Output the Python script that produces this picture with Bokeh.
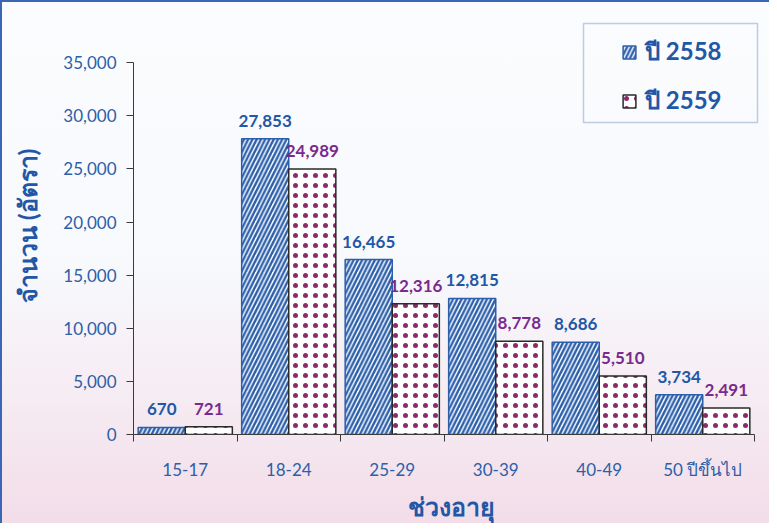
from bokeh.plotting import figure
from bokeh.models import (ColumnDataSource, FixedTicker, Range1d, Legend, LegendItem,
                          BoxAnnotation, NumeralTickFormatter)
from bokeh.transform import dodge
from bokeh.core.properties import value
from bokeh.embed import file_html
from bokeh.resources import INLINE

categories = ["15-17", "18-24", "25-29", "30-39", "40-49", "50 ปีขึ้นไป"]
y2558 = [670, 27853, 16465, 12815, 8686, 3734]
y2559 = [721, 24989, 12316, 8778, 5510, 2491]
series_names = ["ปี 2558", "ปี 2559"]
y_ticks = [0, 5000, 10000, 15000, 20000, 25000, 30000, 35000]
x_title = "ช่วงอายุ"
y_title = "จำนวน (อัตรา)"

BLUE = "#2c5fab"
BLUE_TXT = "#2157a6"
PURPLE_TXT = "#7a2a8e"
PURPLE_DOT = "#8c2a6c"
FONT = "Lato"

n = len(categories)
centers = [i + 0.5 for i in range(n)]
bounds = list(range(n + 1))

src = ColumnDataSource(dict(
    x=centers, a=y2558, b=y2559,
    la=[f"{v:,}" for v in y2558], lb=[f"{v:,}" for v in y2559],
))

p = figure(width=769, height=523, x_range=Range1d(0, n * 636 / 621),
           y_range=Range1d(0, 35000 * 424 / 378), output_backend="svg",
           toolbar_location=None,
           min_border_left=133, min_border_right=0, min_border_top=17,
           min_border_bottom=82)
p.background_fill_alpha = 0
p.border_fill_alpha = 0
p.outline_line_color = None
p.styles = {
    "background": "linear-gradient(to bottom, #fbfcfe 0%, #f7f9fd 50%, #f6eef4 72%, #f4e4ed 88%, #f2dde9 100%)",
    "box-shadow": "inset 2px 2px 0 #3b67b2",
}

off = 0.2275
w = 0.455
r1 = p.vbar(x=dodge('x', -off), top='a', width=w, source=src,
            fill_color="white", line_color=BLUE, line_width=1.5,
            hatch_pattern="/", hatch_color=BLUE, hatch_scale=8.5, hatch_weight=2.4)
r2 = p.vbar(x=dodge('x', off), top='b', width=w, source=src,
            fill_color="white", line_color="#2a2a2a", line_width=1.5,
            hatch_pattern=".", hatch_color=PURPLE_DOT, hatch_scale=10, hatch_weight=5)

p.text(x=dodge('x', -off), y='a', text='la', source=src, y_offset=-12,
       text_align="center", text_baseline="bottom", text_font=value(FONT),
       text_font_style="bold", text_font_size="17px", text_color=BLUE_TXT)
p.text(x=dodge('x', off), y='b', text='lb', source=src, y_offset=-12,
       text_align="center", text_baseline="bottom", text_font=value(FONT),
       text_font_style="bold", text_font_size="17px", text_color=PURPLE_TXT)

p.xgrid.visible = False
p.ygrid.visible = False

xa = p.xaxis[0]
xa.ticker = FixedTicker(ticks=centers, minor_ticks=bounds)
xa.bounds = (0, n)
xa.major_label_overrides = {c: lab for c, lab in zip(centers, categories)}
xa.major_tick_out = 0
xa.major_tick_in = 0
xa.minor_tick_out = 7
xa.minor_tick_in = 0
xa.major_label_standoff = 17
xa.axis_label = x_title
xa.axis_label_standoff = 8

ya = p.yaxis[0]
ya.ticker = FixedTicker(ticks=y_ticks)
ya.bounds = (0, 35000)
ya.formatter = NumeralTickFormatter(format="0,0")
ya.major_tick_out = 7
ya.major_tick_in = 0
ya.minor_tick_out = 0
ya.minor_tick_in = 0
ya.major_label_standoff = 10
ya.axis_label = y_title
ya.axis_label_standoff = 18

for ax in (xa, ya):
    ax.axis_line_color = "#3a3a3a"
    ax.major_tick_line_color = "#3a3a3a"
    ax.minor_tick_line_color = "#3a3a3a"
    ax.major_label_text_font = FONT
    ax.major_label_text_font_size = "17px"
    ax.major_label_text_color = "#2d5ea8"
    ax.axis_label_text_font = FONT
    ax.axis_label_text_font_style = "bold"
    ax.axis_label_text_font_size = "25px"
    ax.axis_label_text_color = BLUE_TXT

legend = Legend(items=[LegendItem(label=series_names[0], renderers=[r1]),
                       LegendItem(label=series_names[1], renderers=[r2])],
                location=(488, 314), padding=0, margin=0, spacing=10,
                glyph_width=16, glyph_height=16, label_height=38,
                label_standoff=8,
                border_line_alpha=0, background_fill_alpha=0,
                label_text_font=FONT, label_text_font_style="bold",
                label_text_font_size="24px", label_text_color=BLUE_TXT)
p.add_layout(legend, "center")

box = BoxAnnotation(left=583, right=757, top=23, bottom=122,
                    left_units="canvas", right_units="canvas",
                    top_units="canvas", bottom_units="canvas",
                    fill_alpha=0, line_color=BLUE, line_width=1.5)
p.add_layout(box)

open("out.html", "w").write(file_html(p, INLINE))
